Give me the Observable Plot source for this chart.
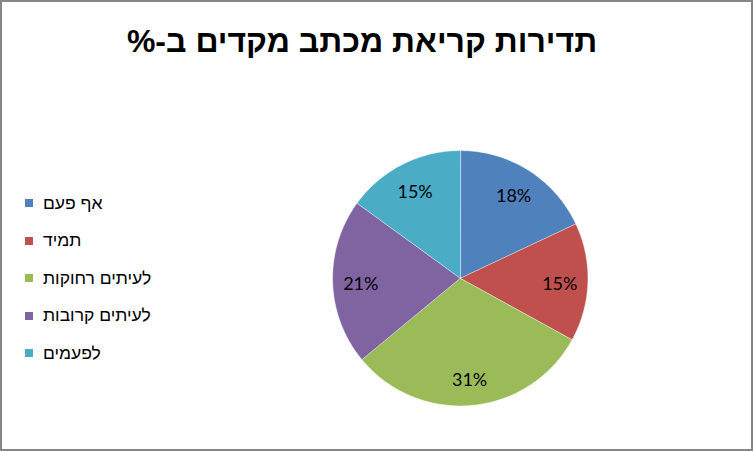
<!DOCTYPE html>
<html>
<head>
<meta charset="utf-8">
<script src="https://cdn.jsdelivr.net/npm/d3@7"></script>
<script src="https://cdn.jsdelivr.net/npm/@observablehq/plot@0.6"></script>
<style>
  html, body { margin: 0; padding: 0; background: #fff; }
  #chart { position: relative; width: 753px; height: 451px; box-sizing: border-box; border: 2px solid #868686; background: #fff; overflow: hidden; }
  #plot { position: absolute; left: -2px; top: -2px; }
  #title { position: absolute; left: 0; width: 720px; top: 21px; text-align: center; font-family: "Liberation Sans", "DejaVu Sans", Arial, sans-serif; font-weight: bold; font-size: 32px; color: #000; }
  #legend { position: absolute; left: 23px; top: 0; font-family: "Liberation Sans", "DejaVu Sans", Arial, sans-serif; font-size: 17.5px; color: #000; }
  .item { position: absolute; left: 0; white-space: nowrap; display: flex; align-items: center; height: 20px; }
  .sw { width: 8px; height: 8px; display: inline-block; margin-right: 10px; }
</style>
</head>
<body>
<div id="chart">
  <div id="plot"></div>
  <div id="title" dir="rtl"></div>
  <div id="legend"></div>
</div>
<script>
const title = "תדירות קריאת מכתב מקדים ב-%";
const categories = ["אף פעם", "תמיד", "לעיתים רחוקות", "לעיתים קרובות", "לפעמים"];
const values = [18, 15, 31, 21, 15];
const colors = ["#4F81BD", "#C0504D", "#9BBB59", "#8064A2", "#4BACC6"];

const rows = categories.map((name, i) => ({name, value: values[i], color: colors[i]}));
const arcs = d3.pie().sort(null).value(d => d.value)(rows);

const marks = [];
arcs.forEach(a => {
  const pts = [{x: 0, y: 0}];
  const n = 120;
  for (let k = 0; k <= n; k++) {
    const t = a.startAngle + (a.endAngle - a.startAngle) * k / n;
    pts.push({x: Math.sin(t), y: Math.cos(t)});
  }
  marks.push(Plot.line(pts, {x: "x", y: "y", fill: a.data.color, stroke: "#ffffff", strokeWidth: 0.6, strokeOpacity: 0.7, curve: "linear-closed"}));
});
const labels = arcs.map(a => {
  const m = (a.startAngle + a.endAngle) / 2;
  return {x: 0.78 * Math.sin(m), y: 0.78 * Math.cos(m), t: a.data.value + "%"};
});
marks.push(Plot.text(labels, {x: "x", y: "y", text: "t", dy: 2.5, fill: "#000", fontSize: 18, fontFamily: "Lato, 'Open Sans', sans-serif"}));

const svg = Plot.plot({
  width: 753, height: 451,
  margin: 0,
  x: {domain: [-1, 1], range: [333, 589], axis: null},
  y: {domain: [-1, 1], range: [406.5, 150.5], axis: null},
  marks
});
document.getElementById("plot").appendChild(svg);

document.getElementById("title").textContent = title;
const legend = document.getElementById("legend");
const rowY = [203, 240.5, 278, 315.5, 353];
categories.forEach((c, i) => {
  const it = document.createElement("div");
  it.className = "item";
  it.style.top = (rowY[i] - 2 - 10) + "px";
  const sw = document.createElement("span");
  sw.className = "sw";
  sw.style.background = colors[i];
  const tx = document.createElement("span");
  tx.dir = "rtl";
  tx.textContent = c;
  it.appendChild(sw); it.appendChild(tx);
  legend.appendChild(it);
});
</script>
</body>
</html>
